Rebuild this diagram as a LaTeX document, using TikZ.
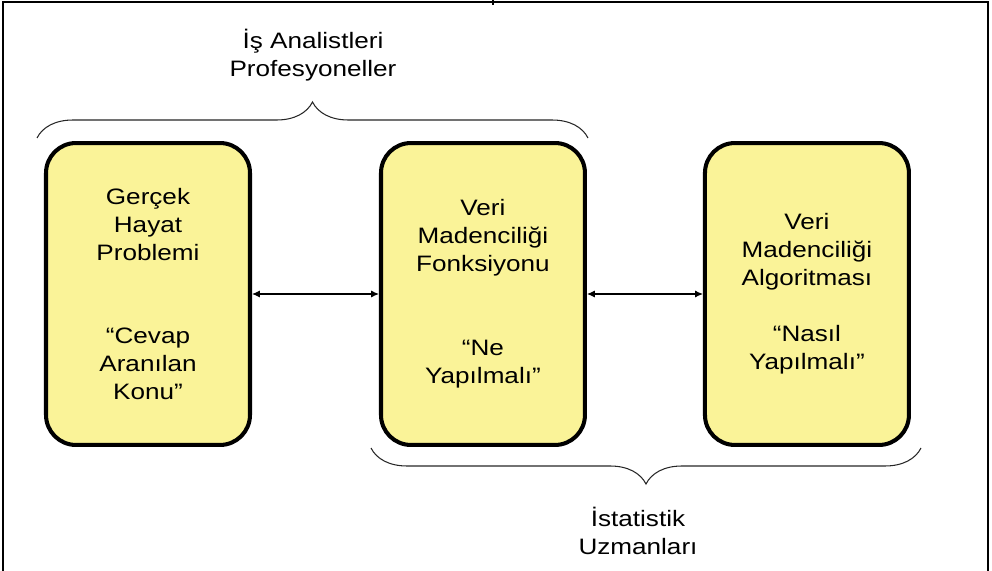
\documentclass[tikz,border=0pt]{standalone}
\usepackage{fontspec}
\setmainfont{Liberation Sans}[FakeStretch=1.17]
\usepackage{tikz}
\usetikzlibrary{positioning,arrows.meta,decorations.pathreplacing}
\definecolor{boxfill}{RGB}{250,243,152}

\begin{document}
\begin{tikzpicture}[x=0.02cm, y=-0.02cm,
    every node/.style={align=center, font=\fontsize{12.7}{15.9}\selectfont},
    box/.style={draw, line width=2.3pt, fill=boxfill, rounded corners=0.6cm, minimum width=4.08cm, minimum height=6.04cm},
    brace/.style={decorate, decoration={brace, amplitude=0.72cm}, line width=0.6pt, black!85},
    link/.style={{Latex[length=4.5pt,width=4pt]}-{Latex[length=4.5pt,width=4pt]}, line width=0.6pt}]
    \useasboundingbox (0,0) rectangle (992,571);
    
    % frame
    \draw[line width=0.8pt] (3,571) -- (3,2) -- (988,2) -- (988,571);
    \draw[line width=0.8pt] (493,0) -- (493,5);
    
    \node[box] (real) at (148,294) {Gerçek\\Hayat\\Problemi\\[31.8pt]“Cevap\\Aranılan\\Konu”};
    \node[box, right=2.54cm of real] (func) {Veri\\Madenciliği\\Fonksiyonu\\[31.8pt]“Ne\\Yapılmalı”};
    \node[box, right=2.32cm of func] (algo) {Veri\\Madenciliği\\Algoritması\\[15.9pt]“Nasıl\\Yapılmalı”};
    
    \draw[link] (real) -- (func);
    \draw[link] (func) -- (algo);
    
    \coordinate (topl) at (37,138);
    \coordinate (topr) at (588,138);
    \coordinate (botl) at (371,448);
    \coordinate (botr) at (921,448);
    \draw[brace] (topl) -- (topr);
    \draw[brace] (botr) -- (botl);
    
    \node (analyst) at (313,55) {İş Analistleri\\Profesyoneller};
    \node (stat) at (638,531) {İstatistik\\Uzmanları};
\end{tikzpicture}
\end{document}
